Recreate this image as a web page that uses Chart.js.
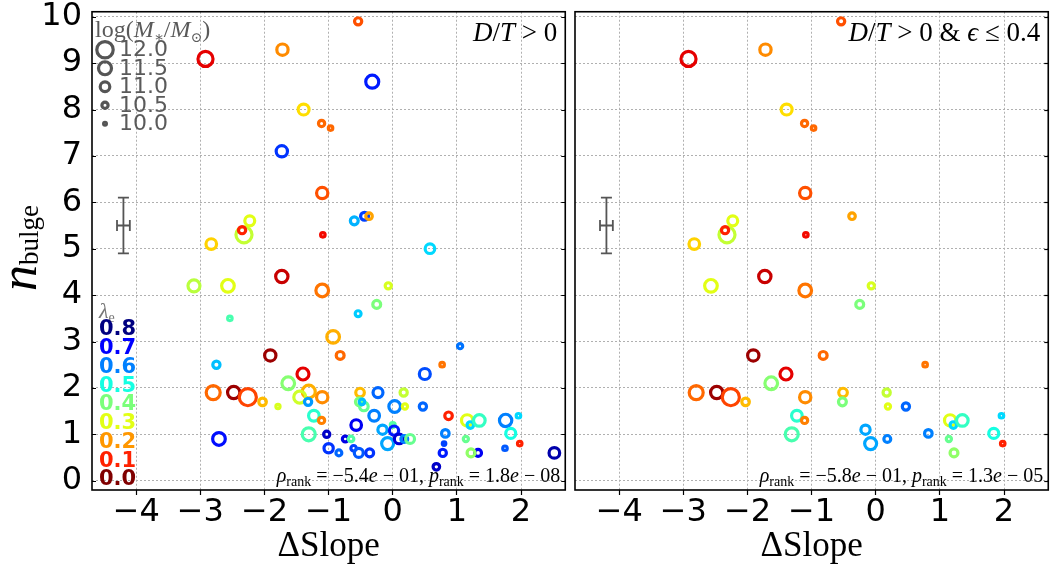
<!DOCTYPE html>
<html>
<head>
<meta charset="utf-8">
<script src="https://cdn.jsdelivr.net/npm/chart.js@4.4.0/dist/chart.umd.min.js"></script>
<style>
  html, body { margin: 0; padding: 0; background: #fff; }
  #wrap { position: relative; width: 1060px; height: 572px; overflow: hidden; background: #fff; }
  canvas { position: absolute; top: 0; }
  #left { left: 0; }
  #right { left: 560px; }
</style>
</head>
<body>
<div id="wrap">
  <canvas id="left" width="577" height="572"></canvas>
  <canvas id="right" width="500" height="572"></canvas>
</div>
<script>
// bulge Sersic index vs. slope offset, coloured by lambda_e, sized by stellar mass
const slope = [
  -2.92, -1.72, -1.73, -0.54, -0.32, -1.39, -1.11, -0.97, -1.10, -0.60,
  -0.44, -0.37, -1.09, 0.58, -2.83, -2.32, -2.35, -2.23, -3.10, -2.57,
  -2.54, -1.73, -2.75, -1.91, -2.80, -2.48, -2.26, -2.03, -1.79, -2.71,
  -1.63, -1.10, -0.07, -0.25, -0.54, -0.93, -0.82, 1.05, 0.77, 0.50,
  -1.40, -1.31, -1.10, -1.45, -1.32, -1.23, -1.11, -1.31, -1.03, -1.00,
  -0.84, -0.74, -0.65, -0.61, -0.53, -0.36, -0.57, -0.29, -0.51, -0.52,
  -0.45, -0.48, -0.23, 0.03, 0.17, 0.19, 0.47, -0.16, -0.08, 0.00,
  0.02, 0.10, 0.18, 0.27, 0.87, 1.16, 1.21, 1.35, 1.76, 1.96,
  1.84, 1.98, 1.75, 2.52, 1.33, 1.22, 1.14, 0.82, 0.80, 0.78,
  0.68
];
const nBulge = [
  9.09, 9.29, 7.10, 9.90, 8.60, 8.00, 7.70, 7.60, 6.20, 5.60,
  5.70, 5.70, 5.30, 5.00, 5.10, 5.30, 5.40, 5.60, 4.20, 4.20,
  3.50, 4.40, 2.50, 2.70, 1.90, 1.90, 1.80, 1.70, 1.60, 0.90,
  2.10, 4.10, 4.20, 3.80, 3.60, 3.10, 2.70, 2.90, 2.50, 2.30,
  2.30, 1.92, 1.80, 1.80, 1.70, 1.40, 1.30, 1.00, 1.00, 0.70,
  0.60, 0.90, 0.90, 0.70, 0.60, 0.60, 1.20, 1.40, 1.90, 1.70,
  1.60, 1.70, 1.90, 1.60, 1.90, 1.60, 1.60, 1.10, 0.80, 1.20,
  1.08, 0.90, 0.90, 0.90, 1.40, 1.30, 1.20, 1.30, 1.30, 1.40,
  1.02, 0.80, 0.70, 0.60, 0.60, 0.60, 0.90, 1.02, 0.80, 0.60,
  0.30
];
const logMass = [
  11.8, 11.25, 11.25, 10.65, 11.5, 11.2, 10.5, 10.25, 11.25, 10.75,
  10.75, 10.55, 10.25, 11.0, 11.15, 11.95, 10.65, 11.05, 11.35, 11.45,
  10.25, 11.4, 10.65, 11.25, 11.65, 11.4, 12.1, 10.7, 10.2, 11.45,
  11.45, 11.45, 10.5, 10.75, 10.45, 11.45, 10.75, 10.35, 10.25, 11.2,
  11.35, 11.5, 11.25, 11.35, 10.65, 11.15, 10.5, 11.5, 10.5, 10.95,
  10.45, 10.45, 10.4, 10.4, 10.9, 10.75, 11.15, 11.15, 10.85, 10.75,
  10.85, 10.4, 11.05, 11.3, 10.65, 10.35, 10.65, 10.95, 11.35, 10.3,
  10.95, 11.0, 10.6, 10.9, 10.7, 11.25, 10.55, 11.3, 11.4, 10.25,
  11.05, 10.25, 10.25, 11.15, 10.6, 10.75, 10.35, 10.7, 10.1, 10.65,
  10.55
];
const lambdaE = [
  0.07, 0.19, 0.66, 0.14, 0.68, 0.26, 0.16, 0.16, 0.14, 0.56,
  0.65, 0.21, 0.08, 0.53, 0.25, 0.33, 0.10, 0.30, 0.34, 0.30,
  0.45, 0.05, 0.55, 0.02, 0.16, 0.02, 0.13, 0.23, 0.31, 0.69,
  0.39, 0.17, 0.31, 0.40, 0.54, 0.22, 0.16, 0.61, 0.17, 0.64,
  0.07, 0.22, 0.19, 0.32, 0.58, 0.48, 0.18, 0.45, 0.75, 0.66,
  0.62, 0.73, 0.44, 0.65, 0.63, 0.66, 0.72, 0.60, 0.23, 0.40,
  0.42, 0.55, 0.62, 0.60, 0.33, 0.30, 0.62, 0.57, 0.57, 0.44,
  0.68, 0.74, 0.60, 0.42, 0.10, 0.30, 0.53, 0.47, 0.60, 0.53,
  0.50, 0.10, 0.63, 0.77, 0.72, 0.38, 0.42, 0.60, 0.65, 0.68,
  0.75
];
// 1 = ellipticity <= 0.4 (kept in the right-hand panel)
const lowEps = [
  1, 1, 0, 1, 0, 1, 1, 1, 1, 0,
  0, 1, 1, 0, 1, 1, 1, 1, 0, 1,
  0, 1, 0, 1, 1, 1, 1, 1, 0, 0,
  1, 1, 1, 1, 0, 0, 1, 0, 1, 0,
  1, 0, 1, 0, 0, 1, 1, 1, 0, 0,
  0, 0, 0, 0, 0, 0, 0, 0, 1, 1,
  0, 0, 0, 0, 1, 1, 1, 1, 1, 0,
  0, 0, 1, 0, 0, 1, 1, 1, 0, 1,
  1, 1, 0, 0, 0, 1, 1, 1, 0, 0,
  0
];

const xTicks = [-4, -3, -2, -1, 0, 1, 2];
const yTicks = [0, 1, 2, 3, 4, 5, 6, 7, 8, 9, 10];
const massTicks = [12.0, 11.5, 11.0, 10.5, 10.0];
const lambdaTicks = [0.0, 0.1, 0.2, 0.3, 0.4, 0.5, 0.6, 0.7, 0.8];
const rhoRank = [-0.54, -0.58];
const pRank = [1.8e-8, 1.3e-5];
// typical uncertainty: [slope, n, err slope, err n]
const typicalErr = [-4.2, 5.5, 0.1, 0.6];

const LAMBDA_MAX = 0.8;
const RING_W = 3.2;
const SERIF = '"Liberation Serif", "DejaVu Serif", serif';
const SANS = '"DejaVu Sans", sans-serif';
const rm = s => `${s}px ${SERIF}`;
const it = s => `italic ${s}px ${SERIF}`;

// matplotlib jet, used reversed
const JET_R = [[0, 0], [0.35, 0], [0.66, 1], [0.89, 1], [1, 0.5]];
const JET_G = [[0, 0], [0.125, 0], [0.375, 1], [0.64, 1], [0.91, 0], [1, 0]];
const JET_B = [[0, 0.5], [0.11, 1], [0.34, 1], [0.65, 0], [1, 0]];
function seg(pts, t) {
  for (let k = 1; k < pts.length; k++) {
    if (t <= pts[k][0]) {
      const [t0, v0] = pts[k - 1], [t1, v1] = pts[k];
      return v0 + (v1 - v0) * (t - t0) / (t1 - t0);
    }
  }
  return pts[pts.length - 1][1];
}
function lambdaColor(l) {
  const t = 1 - Math.min(Math.max(l / LAMBDA_MAX, 0), 1);
  const c = v => Math.round(255 * v);
  return `rgb(${c(seg(JET_R, t))},${c(seg(JET_G, t))},${c(seg(JET_B, t))})`;
}
// outer diameter grows with mass; small ones close up into dots
function ringRadius(m) {
  const outer = 6 + (m - 10) * 6.8;
  return Math.max(outer - RING_W, 0.6) / 2;
}

function richText(ctx, parts, x, y, align, color) {
  ctx.fillStyle = color;
  ctx.textBaseline = 'alphabetic';
  ctx.textAlign = 'left';
  let w = 0;
  for (const p of parts) { ctx.font = p.f; p.w = ctx.measureText(p.t).width; w += p.w; }
  let cx = align === 'right' ? x - w : (align === 'center' ? x - w / 2 : x);
  for (const p of parts) { ctx.font = p.f; ctx.fillText(p.t, cx, y + (p.dy || 0)); cx += p.w; }
}

function sci(v) {
  const [m, e] = v.toExponential(1).split('e');
  const ei = parseInt(e, 10);
  return { m: m.replace('-', '\u2212'), sign: ei < 0 ? '\u2212' : '+', e: String(Math.abs(ei)).padStart(2, '0') };
}

function statParts(rho, p) {
  const s = 20, sub = 14;
  const a = sci(rho), b = sci(p);
  return [
    { t: '\u03c1', f: it(s) }, { t: 'rank', f: rm(sub), dy: 4 },
    { t: ' = ' + a.m, f: rm(s) }, { t: 'e', f: it(s) }, { t: ' ' + a.sign + ' ' + a.e + ', ', f: rm(s) },
    { t: 'p', f: it(s) }, { t: 'rank', f: rm(sub), dy: 4 },
    { t: ' = ' + b.m, f: rm(s) }, { t: 'e', f: it(s) }, { t: ' ' + b.sign + ' ' + b.e, f: rm(s) }
  ];
}

const panelDecor = {
  id: 'panelDecor',
  afterDraw(chart, args, opts) {
    const { ctx, chartArea: a, scales: { x, y } } = chart;
    ctx.save();

    // ticks pointing into the axes on the vertical spines
    ctx.strokeStyle = '#000';
    ctx.lineWidth = 1.2;
    yTicks.forEach(v => {
      const py = Math.round(y.getPixelForValue(v)) + 0.5;
      ctx.beginPath();
      if (opts.side === 'left') { ctx.moveTo(a.left, py); ctx.lineTo(a.left + 4, py); }
      ctx.moveTo(a.right - 4, py); ctx.lineTo(a.right, py);
      ctx.stroke();
    });

    // frame
    ctx.lineWidth = 1.6;
    ctx.strokeRect(a.left, a.top, a.right - a.left, a.bottom - a.top);

    // typical error bar
    const [ex, ey, dx, dy] = typicalErr;
    const cx = x.getPixelForValue(ex), cy = y.getPixelForValue(ey);
    const x0 = x.getPixelForValue(ex - dx), x1 = x.getPixelForValue(ex + dx);
    const y0 = y.getPixelForValue(ey - dy), y1 = y.getPixelForValue(ey + dy);
    const cap = 5.5;
    ctx.strokeStyle = '#555';
    ctx.lineWidth = 1.8;
    ctx.beginPath();
    ctx.moveTo(cx, y0); ctx.lineTo(cx, y1);
    ctx.moveTo(x0, cy); ctx.lineTo(x1, cy);
    ctx.moveTo(cx - cap, y0); ctx.lineTo(cx + cap, y0);
    ctx.moveTo(cx - cap, y1); ctx.lineTo(cx + cap, y1);
    ctx.moveTo(x0, cy - cap); ctx.lineTo(x0, cy + cap);
    ctx.moveTo(x1, cy - cap); ctx.lineTo(x1, cy + cap);
    ctx.stroke();

    // panel selection label
    richText(ctx, opts.title, a.right - 8, a.top + 29, 'right', '#000');

    // rank correlation
    richText(ctx, statParts(rhoRank[opts.idx], pRank[opts.idx]), a.right - 5, a.bottom - 8, 'right', '#000');

    if (opts.side === 'left') {
      // stellar mass key
      richText(ctx, [
        { t: 'log(', f: rm(24) }, { t: 'M', f: it(24) }, { t: '\u2217', f: rm(15), dy: 5 },
        { t: '/', f: rm(24) }, { t: 'M', f: it(24) }, { t: '\u2299', f: rm(14), dy: 5 }, { t: ')', f: rm(24) }
      ], a.left + 3, a.top + 25, 'left', '#5a5a5a');
      massTicks.forEach((m, i) => {
        const my = a.top + 38 + i * 18.5;
        const r = ringRadius(m);
        ctx.beginPath();
        ctx.arc(a.left + 13, my, r, 0, Math.PI * 2);
        ctx.strokeStyle = '#555';
        ctx.lineWidth = RING_W;
        ctx.stroke();
        ctx.font = `22px ${SANS}`;
        ctx.fillStyle = '#5a5a5a';
        ctx.textAlign = 'left';
        ctx.textBaseline = 'middle';
        ctx.fillText(m.toFixed(1), a.left + 27, my + 1);
      });

      // lambda_e colour key
      richText(ctx, [{ t: '\u03bb', f: it(22) }, { t: 'e', f: rm(14), dy: 4 }],
        a.left + 7, a.bottom - 172, 'left', '#777');
      lambdaTicks.forEach((l, i) => {
        ctx.font = `bold 21px ${SANS}`;
        ctx.fillStyle = lambdaColor(l);
        ctx.textAlign = 'left';
        ctx.textBaseline = 'middle';
        ctx.fillText(l.toFixed(1), a.left + 7, a.bottom - 10 - i * 18.75);
      });

      // y axis label
      ctx.save();
      ctx.translate(36, 291);
      ctx.rotate(-Math.PI / 2);
      richText(ctx, [{ t: 'n', f: it(52) }, { t: 'bulge', f: rm(27), dy: 2 }], 0, 0, 'left', '#000');
      ctx.restore();
    }
    ctx.restore();
  }
};

const minus = v => String(v).replace('-', '\u2212');

function makePanel(canvasId, side) {
  const pts = [];
  slope.forEach((sx, i) => {
    if (side === 'left' || lowEps[i] === 1) {
      pts.push({ x: sx, y: nBulge[i], m: logMass[i], lam: lambdaE[i] });
    }
  });
  const isLeft = side === 'left';
  const title = isLeft
    ? [{ t: 'D', f: it(27) }, { t: '/', f: rm(27) }, { t: 'T', f: it(27) }, { t: ' > 0', f: rm(27) }]
    : [{ t: 'D', f: it(27) }, { t: '/', f: rm(27) }, { t: 'T', f: it(27) }, { t: ' > 0 & ', f: rm(27) },
       { t: '\u03f5', f: it(27) }, { t: ' \u2264 0.4', f: rm(27) }];

  return new Chart(document.getElementById(canvasId), {
    type: 'scatter',
    data: {
      datasets: [{
        data: pts,
        pointStyle: 'circle',
        pointRadius: c => (c.raw ? ringRadius(c.raw.m) : 4),
        pointHoverRadius: c => (c.raw ? ringRadius(c.raw.m) : 4),
        pointBorderWidth: RING_W,
        pointHoverBorderWidth: RING_W,
        pointBorderColor: c => (c.raw ? lambdaColor(c.raw.lam) : '#000'),
        pointBackgroundColor: 'rgba(0,0,0,0)'
      }]
    },
    options: {
      responsive: false,
      devicePixelRatio: 1,
      animation: false,
      events: [],
      layout: { padding: { top: 9, right: isLeft ? 1.7 : 0.7, left: 0, bottom: 0 } },
      plugins: {
        legend: { display: false },
        tooltip: { enabled: false },
        panelDecor: { side, idx: isLeft ? 0 : 1, title }
      },
      scales: {
        x: {
          type: 'linear',
          min: -4.69,
          max: 2.69,
          afterBuildTicks: s => { s.ticks = xTicks.map(v => ({ value: v })); },
          afterFit: s => { s.height = 82; s.paddingLeft = 0; s.paddingRight = 0; },
          ticks: {
            color: '#000',
            font: { family: 'DejaVu Sans', size: 32 },
            padding: -2,
            maxRotation: 0,
            callback: v => minus(v)
          },
          grid: {
            color: '#b0b0b0',
            lineWidth: 1,
            drawTicks: true,
            tickLength: 5,
            tickColor: '#000',
            tickWidth: 1.2,
            tickBorderDash: []
          },
          border: { display: false, dash: [2, 2] },
          title: {
            display: true,
            text: '\u0394Slope',
            color: '#000',
            font: { family: 'Liberation Serif', size: 35 },
            padding: { top: 0, bottom: 4 }
          }
        },
        y: {
          type: 'linear',
          min: -0.2,
          max: 10.107,
          afterBuildTicks: s => { s.ticks = yTicks.map(v => ({ value: v })); },
          afterFit: s => { s.width = isLeft ? 92 : 15; s.paddingTop = 0; s.paddingBottom = 0; },
          ticks: {
            display: isLeft,
            color: '#000',
            font: { family: 'DejaVu Sans', size: 32 },
            padding: 10,
            callback: v => minus(v)
          },
          grid: { color: '#b0b0b0', lineWidth: 1, drawTicks: false },
          border: { display: false, dash: [2, 2] }
        }
      }
    },
    plugins: [panelDecor]
  });
}

makePanel('left', 'left');
makePanel('right', 'right');
</script>
</body>
</html>
